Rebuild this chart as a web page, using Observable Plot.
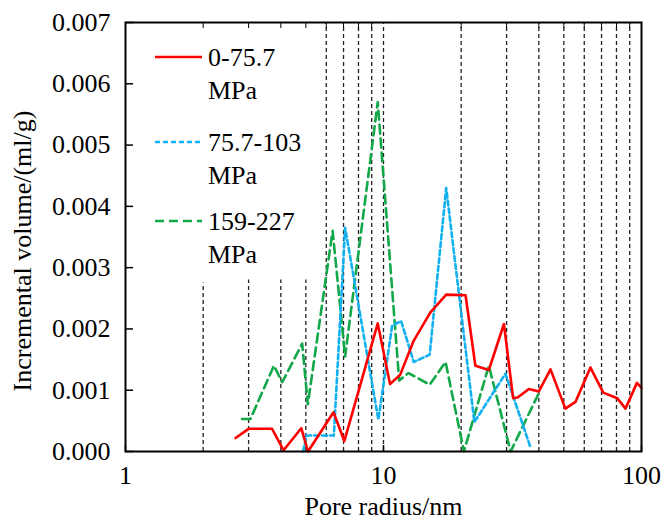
<!DOCTYPE html>
<html><head><meta charset="utf-8">
<script src="https://cdn.jsdelivr.net/npm/d3@7"></script>
<script src="https://cdn.jsdelivr.net/npm/@observablehq/plot@0.6"></script>
<style>
body{margin:0;background:#fff;}
#wrap{position:relative;width:664px;height:521px;}
#legend{position:absolute;left:0;top:0;pointer-events:none;}
</style></head><body><div id="wrap"></div>
<script>
// ---- data ----
const redX = [2.67, 3.0, 3.7, 4.1, 4.8, 5.1, 6.4, 7.05, 9.5, 10.6, 11.6, 13.1, 15.2, 17.5, 20.8, 22.7, 25.6, 29.3, 31.8, 33.1, 36.6, 40.0, 44.4, 50.7, 55.5, 63.4, 71.1, 80.5, 86.7, 96, 100];
const redY = [0.00022, 0.00037, 0.00037, 0.00002, 0.00038, 0.0, 0.00064, 0.00017, 0.00209, 0.0011, 0.00125, 0.00181, 0.00227, 0.00256, 0.00255, 0.0014, 0.00133, 0.00208, 0.00087, 0.00088, 0.00102, 0.00098, 0.00134, 0.0007, 0.00081, 0.00137, 0.00096, 0.00087, 0.0007, 0.00112, 0.00104];

const blueX = [4.88, 5.03, 6.42, 7.1, 9.55, 10.8, 11.7, 13.1, 15.1, 17.5, 22.5, 29.7, 37.1];
const blueY = [0.0, 0.00026, 0.00026, 0.00365, 0.00052, 0.00205, 0.00213, 0.00146, 0.00158, 0.0043, 0.00048, 0.00127, 0.00007];

const greenX = [2.83, 3.05, 3.76, 4.05, 4.84, 5.09, 6.35, 7.1, 9.5, 11.5, 12.5, 15.1, 17.4, 20.5, 25.6, 31.1, 40.3];
const greenY = [0.00053, 0.00053, 0.0014, 0.00113, 0.00176, 0.00077, 0.0036, 0.00155, 0.0057, 0.00116, 0.00128, 0.00109, 0.00146, 0.0, 0.0014, 0.0, 0.00098];

const seriesNames = ["0-75.7\nMPa", "75.7-103\nMPa", "159-227\nMPa"];
const seriesColors = ["#ff0000", "#12b0ee", "#12a84a"];

const shortRefX = [2, 3, 4, 5];
const shortRefTop = [0.00275, 0.0028, 0.0028, 0.0028];
const fullRefX = [6, 7, 8, 9, 10, 20, 30, 40, 50, 60, 70, 80, 90];

const xTicks = [1, 10, 100];
const xMinorTicks = [2, 3, 4, 5, 6, 7, 8, 9, 20, 30, 40, 50, 60, 70, 80, 90];
const yTicks = [0, 0.001, 0.002, 0.003, 0.004, 0.005, 0.006, 0.007];
const xTitle = "Pore radius/nm";
const yTitle = "Incremental volume/(ml/g)";

// ---- build tables ----
const toRows = (xs, ys) => xs.map((x, i) => ({x, y: ys[i]}));
const red = toRows(redX, redY), blue = toRows(blueX, blueY), green = toRows(greenX, greenY);
const shortRefs = shortRefX.map((x, i) => ({x, top: shortRefTop[i]}));
const yMax = yTicks[yTicks.length - 1];

const FONT = '"Liberation Serif", "Times New Roman", serif';
const dashes = ["none", "5,3", "9,5"];

const plot = Plot.plot({
  width: 664, height: 521,
  marginLeft: 125, marginRight: 23, marginTop: 22, marginBottom: 70,
  x: {type: "log", domain: [1, 100]},
  y: {domain: [0, yMax]},
  style: {fontFamily: FONT, fontSize: "26px", color: "#000", background: "#fff"},
  marks: [
    Plot.ruleX(shortRefs, {x: "x", y1: 0, y2: "top", stroke: "#222", strokeWidth: 1.3, strokeDasharray: "4,3"}),
    Plot.ruleX(fullRefX, {x: d => d, y1: 0, y2: yMax, stroke: "#222", strokeWidth: 1.3, strokeDasharray: "4,3"}),
    Plot.line(green, {x: "x", y: "y", stroke: seriesColors[2], strokeWidth: 2.6, strokeDasharray: dashes[2]}),
    Plot.line(blue, {x: "x", y: "y", stroke: seriesColors[1], strokeWidth: 2.6, strokeDasharray: dashes[1]}),
    Plot.line(red, {x: "x", y: "y", stroke: seriesColors[0], strokeWidth: 2.6}),
    Plot.axisY({ticks: yTicks, tickFormat: d3.format(".3f"), tickSize: -8, tickPadding: 23, label: null, strokeWidth: 1.5}),
    Plot.axisX({ticks: xTicks, tickFormat: d => String(d), tickSize: -6, tickPadding: 20, label: null, strokeWidth: 1.5}),
    Plot.axisX({anchor: "top", ticks: xMinorTicks, tickSize: -5, tickFormat: () => "", label: null}),
    Plot.frame({stroke: "#000", strokeWidth: 2}),
    Plot.text([yTitle], {frameAnchor: "left", textAnchor: "middle", dx: -103, dy: 14, rotate: -90, fontSize: 26}),
    Plot.text([xTitle], {frameAnchor: "bottom", dy: 63, fontSize: 26})
  ]
});

const wrap = document.getElementById("wrap");
wrap.appendChild(plot);

// ---- legend (inside the plot, top-left) ----
const legendRowsY = [57, 142, 221];
const svg = d3.select(wrap).append("svg").attr("id", "legend")
  .attr("width", 664).attr("height", 521)
  .style("font-family", FONT).style("font-size", "26px");
seriesNames.forEach((name, i) => {
  const y = legendRowsY[i];
  svg.append("line").attr("x1", 155).attr("x2", 202).attr("y1", y).attr("y2", y)
    .attr("stroke", seriesColors[i]).attr("stroke-width", 2.6)
    .attr("stroke-dasharray", dashes[i] === "none" ? null : dashes[i]);
  const lines = name.split("\n");
  lines.forEach((t, j) => {
    svg.append("text").attr("x", 208).attr("y", y + 9 + j * 33).text(t);
  });
});
</script></body></html>
